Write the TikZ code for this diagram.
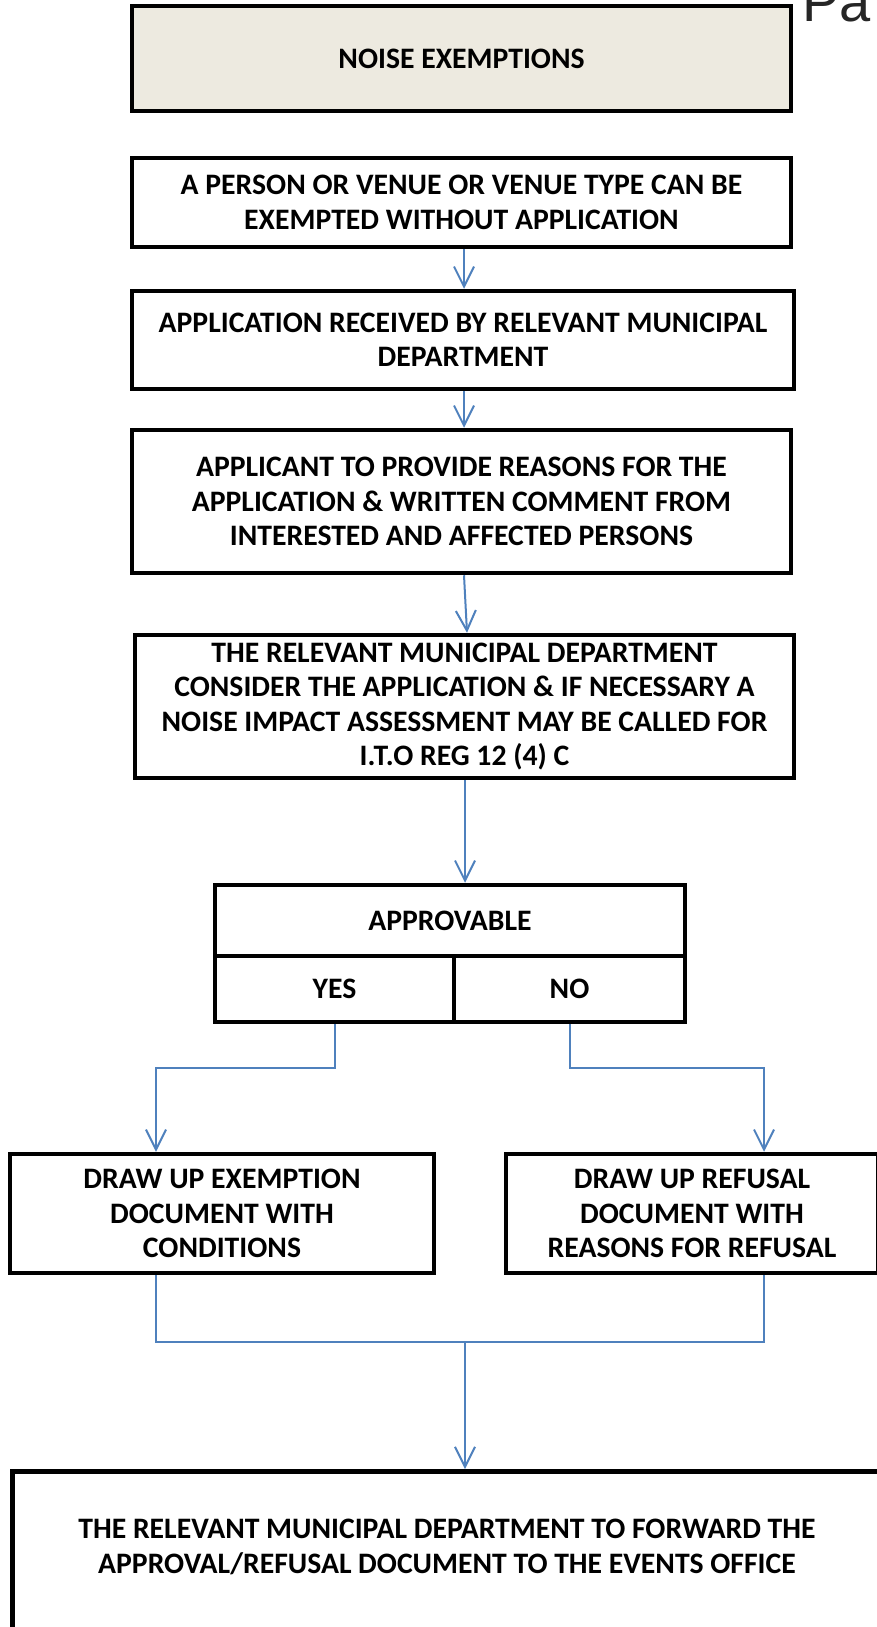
\documentclass[tikz,border=0pt]{standalone}
\usepackage{fontspec}
\setmainfont{Carlito}
\newfontfamily\pagefont{Liberation Sans}
\usetikzlibrary{arrows.meta,calc}
\definecolor{conblue}{HTML}{4F81BD}
\definecolor{titlefill}{HTML}{EDEAE0}
\tikzset{
  box/.style={draw=black, line width=4.5pt, rectangle, inner sep=0pt, align=center,
    font=\fontsize{29.7}{34.5}\selectfont\bfseries, fill=white},
  conn/.style={draw=conblue, line width=2pt, -{Straight Barb[length=20pt,width=20pt]}},
  plain/.style={draw=conblue, line width=2pt},
}
\begin{document}
\begin{tikzpicture}[x=1pt,y=-1pt]
\useasboundingbox (0,0) rectangle (877,1627);
\fill[white] (0,0) rectangle (877,1627);

\node[font=\pagefont\fontsize{56}{56}\selectfont, text=black!85, anchor=base west, inner sep=0pt] (pg) at (802,22) {Pa};

\node[box, fill=titlefill, minimum width=659, minimum height=105] (title) at (461.5,58.5) {NOISE EXEMPTIONS};
\node[box, minimum width=659, minimum height=89] (boxA) at (461.5,202.5) {A PERSON OR VENUE OR VENUE TYPE CAN BE\\EXEMPTED WITHOUT APPLICATION};
\node[box, minimum width=662, minimum height=98] (boxB) at (463,340) {APPLICATION RECEIVED BY RELEVANT MUNICIPAL\\DEPARTMENT};
\node[box, minimum width=659, minimum height=143] (boxC) at (461.5,501.5) {APPLICANT TO PROVIDE REASONS FOR THE\\APPLICATION \& WRITTEN COMMENT FROM\\INTERESTED AND AFFECTED PERSONS};
\node[box, minimum width=659, minimum height=143] (boxD) at (464.5,706.5) {THE RELEVANT MUNICIPAL DEPARTMENT\\CONSIDER THE APPLICATION \& IF NECESSARY A\\NOISE IMPACT ASSESSMENT MAY BE CALLED FOR\\I.T.O REG 12 (4) C};

\node[box, minimum width=470, minimum height=71] (apptop) at (450,920.5) {APPROVABLE};
\node[box, minimum width=239, minimum height=66] (yes) at (334.5,989) {YES};
\node[box, minimum width=231, minimum height=66] (no) at (569.5,989) {NO};

\node[box, minimum width=424, minimum height=119] (exempt) at (222,1213.5) {DRAW UP EXEMPTION\\DOCUMENT WITH\\CONDITIONS};
\node[box, minimum width=372, minimum height=119] (refuse) at (692,1213.5) {DRAW UP REFUSAL\\DOCUMENT WITH\\REASONS FOR REFUSAL};

\node[box, minimum width=890, minimum height=240, anchor=north west] (final) at (10,1469) {};
\node[align=center, font=\fontsize{29.7}{34.5}\selectfont\bfseries, inner sep=0pt] (finaltext) at (447,1547) {THE RELEVANT MUNICIPAL DEPARTMENT TO FORWARD THE\\APPROVAL/REFUSAL DOCUMENT TO THE EVENTS OFFICE};

\draw[conn] ([xshift=2.5pt]boxA.south) -- ([xshift=1pt]boxB.north);
\draw[conn] ([xshift=1pt]boxB.south) -- ([xshift=2.5pt]boxC.north);
\draw[conn] ([xshift=2.5pt]boxC.south) -- ([xshift=2.5pt]boxD.north);
\draw[conn] ([xshift=0.5pt]boxD.south) -- ([xshift=15pt]apptop.north);

\draw[conn] (yes.south) -- ++(0,44) -| ([xshift=-66pt]exempt.north);
\draw[conn] (no.south) -- ++(0,44) -| ([xshift=72pt]refuse.north);

\coordinate (merge) at (465,1342);
\draw[plain] ([xshift=-66pt]exempt.south) |- (merge) -| ([xshift=72pt]refuse.south);
\draw[conn] (merge) -- (final.north -| merge);
\end{tikzpicture}
\end{document}
